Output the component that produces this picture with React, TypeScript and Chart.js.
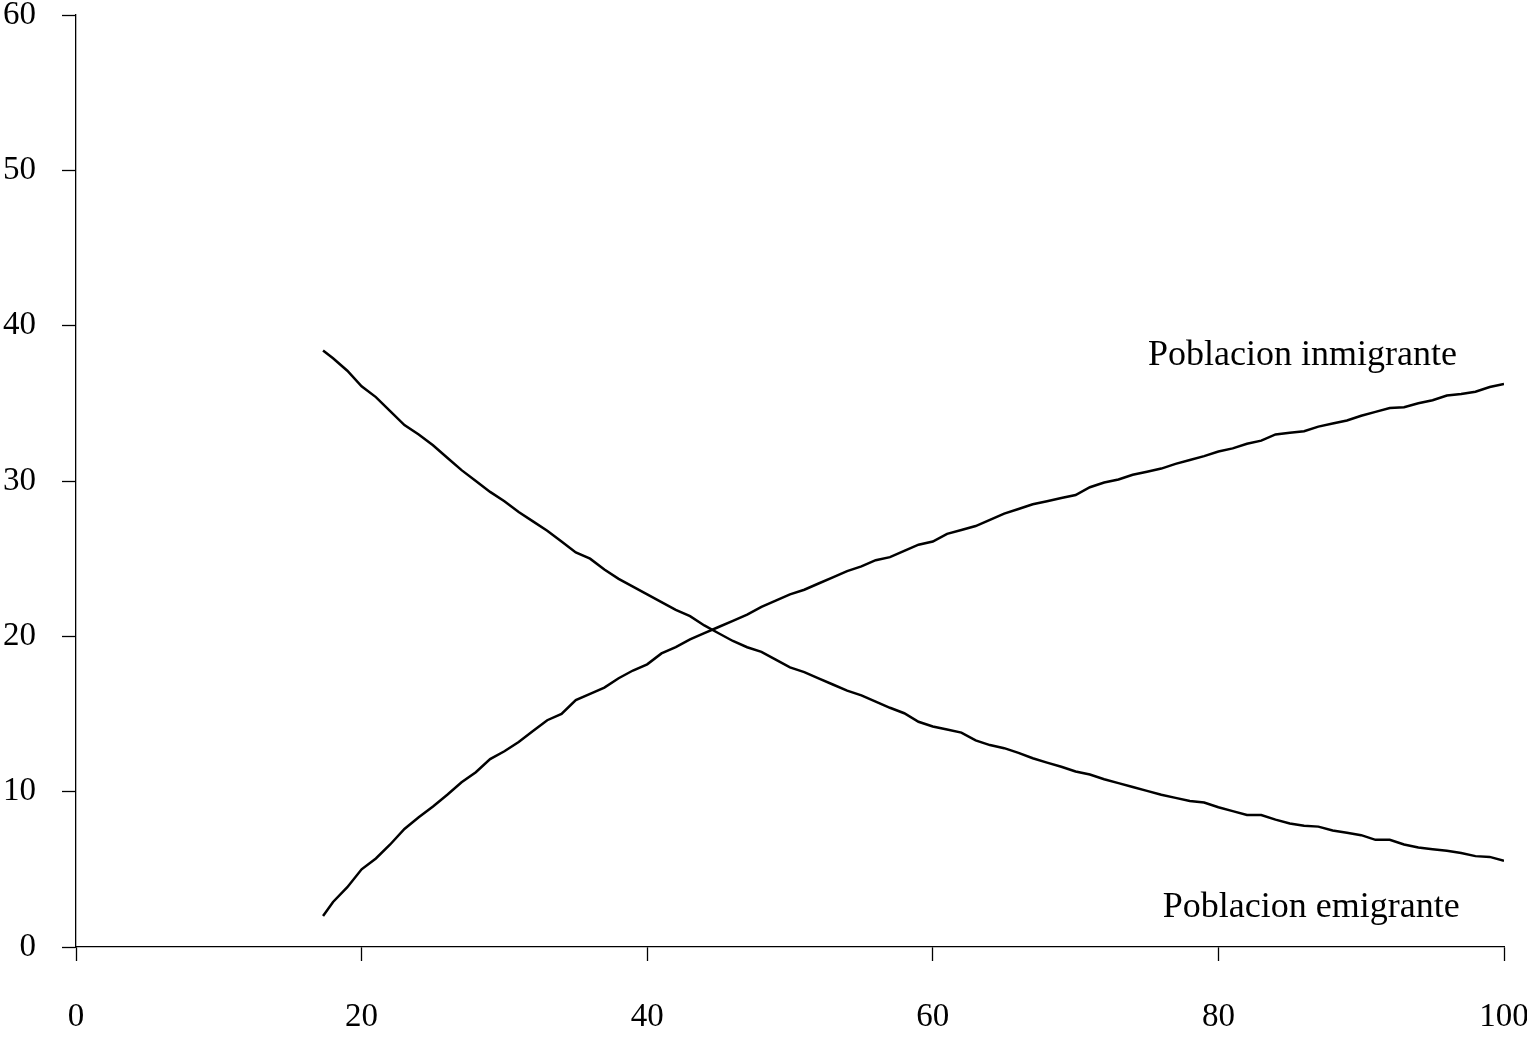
import React, { useEffect, useRef } from "react";
import { Chart, registerables } from "chart.js";

Chart.register(...registerables);

// ---- Data ----
const xValues = [
  17.3, 18, 19, 20, 21, 22, 23, 24, 25, 26, 27, 28, 29, 30, 31, 32, 33, 34, 35, 36,
  37, 38, 39, 40, 41, 42, 43, 44, 45, 46, 47, 48, 49, 50, 51, 52, 53, 54, 55, 56,
  57, 58, 59, 60, 61, 62, 63, 64, 65, 66, 67, 68, 69, 70, 71, 72, 73, 74, 75, 76,
  77, 78, 79, 80, 81, 82, 83, 84, 85, 86, 87, 88, 89, 90, 91, 92, 93, 94, 95, 96,
  97, 98, 99, 100,
];

const poblacionInmigrante = [
  2.0, 2.9, 3.85, 5.0, 5.7, 6.6, 7.6, 8.35, 9.05, 9.8, 10.6, 11.25, 12.1, 12.6, 13.2, 13.9, 14.6, 15.0, 15.9, 16.3,
  16.7, 17.3, 17.8, 18.2, 18.9, 19.3, 19.8, 20.2, 20.6, 21.0, 21.4, 21.9, 22.3, 22.7, 23.0, 23.4, 23.8, 24.2, 24.5, 24.9,
  25.1, 25.5, 25.9, 26.1, 26.6, 26.85, 27.1, 27.5, 27.9, 28.2, 28.5, 28.7, 28.9, 29.1, 29.6, 29.9, 30.1, 30.4, 30.6, 30.8,
  31.1, 31.35, 31.6, 31.9, 32.1, 32.4, 32.6, 33.0, 33.1, 33.2, 33.5, 33.7, 33.9, 34.2, 34.45, 34.7, 34.75, 35.0, 35.2, 35.5,
  35.6, 35.75, 36.05, 36.25,
];

const poblacionEmigrante = [
  38.4, 37.9, 37.1, 36.1, 35.4, 34.5, 33.6, 33.0, 32.3, 31.5, 30.7, 30.0, 29.3, 28.7, 28.0, 27.4, 26.8, 26.1, 25.4, 25.0,
  24.3, 23.7, 23.2, 22.7, 22.2, 21.7, 21.3, 20.7, 20.2, 19.7, 19.3, 19.0, 18.5, 18.0, 17.7, 17.3, 16.9, 16.5, 16.2, 15.8,
  15.4, 15.05, 14.5, 14.2, 14.0, 13.8, 13.3, 13.0, 12.8, 12.5, 12.15, 11.87, 11.6, 11.3, 11.1, 10.8, 10.55, 10.3, 10.05, 9.8,
  9.6, 9.4, 9.3, 9.0, 8.75, 8.5, 8.5, 8.2, 7.95, 7.8, 7.75, 7.5, 7.36, 7.2, 6.9, 6.9, 6.6, 6.4, 6.3, 6.2,
  6.05, 5.85, 5.8, 5.55,
];

const xTickValues = [0, 20, 40, 60, 80, 100];
const yTickValues = [0, 10, 20, 30, 40, 50, 60];

const seriesNames = ["Poblacion inmigrante", "Poblacion emigrante"];
// label anchor in data coordinates (right end, baseline)
const labelAnchorX = [96.7, 96.9];
const labelAnchorY = [37.5, 1.9];

const FONT = "'Liberation Serif', 'Times New Roman', serif";

const curveLabelPlugin = {
  id: "curveLabels",
  afterDatasetsDraw(chart: any) {
    const { ctx, scales } = chart;
    const xs = scales.x;
    const ys = scales.y;
    ctx.save();
    ctx.font = `36px ${FONT}`;
    ctx.fillStyle = "#000";
    ctx.textAlign = "right";
    ctx.textBaseline = "alphabetic";
    seriesNames.forEach((name, i) => {
      ctx.fillText(name, xs.getPixelForValue(labelAnchorX[i]), ys.getPixelForValue(labelAnchorY[i]));
    });
    ctx.restore();
  },
};

export default function App() {
  const canvasRef = useRef<HTMLCanvasElement | null>(null);

  useEffect(() => {
    const canvas = canvasRef.current;
    if (!canvas) return;
    const toPoints = (vals: number[]) => xValues.map((x, i) => ({ x, y: vals[i] }));

    const axisGrid = {
      display: true,
      drawOnChartArea: false,
      drawTicks: true,
      tickLength: 14,
      tickColor: "#000",
      tickWidth: 1.3,
    };

    const chart = new Chart(canvas, {
      type: "line",
      data: {
        datasets: [
          {
            label: seriesNames[0],
            data: toPoints(poblacionInmigrante),
            borderColor: "#000",
            borderWidth: 2.5,
            pointRadius: 0,
            tension: 0,
            fill: false,
          },
          {
            label: seriesNames[1],
            data: toPoints(poblacionEmigrante),
            borderColor: "#000",
            borderWidth: 2.5,
            pointRadius: 0,
            tension: 0,
            fill: false,
          },
        ],
      },
      options: {
        responsive: false,
        animation: false,
        devicePixelRatio: 1,
        layout: { padding: { top: 15, right: 23, left: 0, bottom: 0 } },
        plugins: {
          legend: { display: false },
          tooltip: { enabled: false },
          title: { display: false },
        },
        scales: {
          x: {
            type: "linear",
            min: 0,
            max: 100,
            afterBuildTicks: (s: any) => {
              s.ticks = xTickValues.map((v) => ({ value: v }));
            },
            afterFit: (s: any) => {
              s.height = 90;
              s.paddingLeft = 0;
              s.paddingRight = 0;
            },
            border: { display: true, color: "#000", width: 1.3 },
            grid: axisGrid,
            ticks: {
              color: "#000",
              font: { family: FONT, size: 33 },
              padding: 37,
              maxRotation: 0,
              autoSkip: false,
            },
          },
          y: {
            type: "linear",
            min: 0,
            max: 60,
            afterBuildTicks: (s: any) => {
              s.ticks = yTickValues.map((v) => ({ value: v }));
            },
            afterFit: (s: any) => {
              s.width = 76;
              s.paddingTop = 0;
              s.paddingBottom = 0;
            },
            border: { display: true, color: "#000", width: 1.3 },
            grid: axisGrid,
            ticks: {
              color: "#000",
              font: { family: FONT, size: 33 },
              padding: 26,
              autoSkip: false,
            },
          },
        },
      },
      plugins: [curveLabelPlugin],
    });

    return () => {
      chart.destroy();
    };
  }, []);

  return (
    <canvas
      ref={canvasRef}
      width={1527}
      height={1037}
      style={{ position: "fixed", left: 0, top: 0, width: "1527px", height: "1037px", display: "block", background: "#fff" }}
    />
  );
}
